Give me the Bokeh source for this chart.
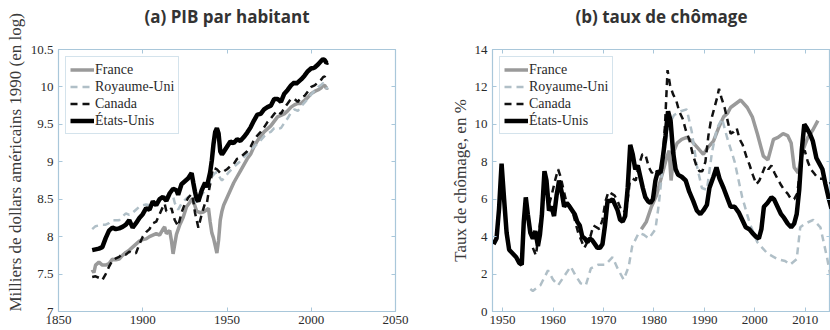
from bokeh.plotting import figure
from bokeh.models import Range1d, FixedTicker, LinearAxis, Legend, LegendItem, Title
from bokeh.layouts import row
from bokeh.embed import file_html
from bokeh.resources import INLINE

# ---------------- data: (a) PIB par habitant (log) ----------------
gdp_fr_years = [1870, 1871, 1872, 1874, 1876, 1878, 1880, 1882, 1884, 1886, 1888, 1890,
                1892, 1894, 1896, 1898, 1900, 1902, 1904, 1906, 1908, 1910, 1912, 1913,
                1914, 1916, 1917, 1918, 1919, 1920, 1922, 1924, 1926, 1928, 1929, 1930,
                1932, 1934, 1936, 1938, 1939, 1940, 1941, 1942, 1943, 1944, 1945, 1946,
                1947, 1948, 1950, 1952, 1954, 1956, 1958, 1960, 1962, 1964, 1966, 1968,
                1970, 1972, 1974, 1976, 1978, 1980, 1982, 1984, 1986, 1988, 1990, 1992,
                1994, 1996, 1998, 2000, 2002, 2004, 2006, 2007, 2008, 2009, 2010]
gdp_fr = [7.56, 7.52, 7.62, 7.66, 7.62, 7.62, 7.64, 7.70, 7.69, 7.70, 7.75, 7.79,
          7.82, 7.86, 7.90, 7.94, 7.96, 7.97, 8.00, 8.02, 8.04, 8.02, 8.10, 8.13,
          8.04, 8.08, 7.95, 7.77, 7.90, 8.03, 8.16, 8.26, 8.40, 8.46, 8.50, 8.48,
          8.34, 8.32, 8.33, 8.36, 8.38, 8.20, 8.05, 7.98, 7.88, 7.78, 7.95, 8.22,
          8.34, 8.42, 8.52, 8.62, 8.72, 8.80, 8.88, 8.96, 9.04, 9.10, 9.20, 9.28,
          9.34, 9.40, 9.44, 9.48, 9.54, 9.60, 9.62, 9.64, 9.68, 9.73, 9.76, 9.78,
          9.78, 9.82, 9.86, 9.91, 9.94, 9.96, 9.99, 10.02, 10.02, 9.98, 9.99]

gdp_uk_years = [1870, 1872, 1874, 1876, 1878, 1880, 1882, 1884, 1886, 1888, 1890, 1892,
                1894, 1896, 1898, 1900, 1902, 1904, 1906, 1908, 1910, 1912, 1913, 1915,
                1917, 1918, 1919, 1921, 1923, 1925, 1927, 1929, 1931, 1933, 1935, 1937,
                1939, 1941, 1943, 1944, 1945, 1946, 1947, 1949, 1951, 1954, 1957, 1960,
                1963, 1966, 1969, 1972, 1974, 1976, 1978, 1980, 1982, 1984, 1986, 1988,
                1990, 1992, 1994, 1996, 1998, 2000, 2002, 2004, 2006, 2007, 2008, 2009,
                2010]
gdp_uk = [8.10, 8.14, 8.15, 8.16, 8.16, 8.18, 8.22, 8.22, 8.22, 8.27, 8.31, 8.29,
          8.32, 8.36, 8.40, 8.42, 8.43, 8.42, 8.46, 8.44, 8.47, 8.49, 8.52, 8.55,
          8.54, 8.54, 8.45, 8.36, 8.44, 8.49, 8.53, 8.55, 8.46, 8.48, 8.56, 8.62,
          8.68, 8.80, 8.85, 8.86, 8.82, 8.78, 8.75, 8.80, 8.86, 8.93, 8.99, 9.06,
          9.12, 9.20, 9.26, 9.34, 9.38, 9.40, 9.45, 9.44, 9.45, 9.52, 9.58, 9.66,
          9.70, 9.68, 9.74, 9.79, 9.84, 9.90, 9.95, 10.00, 10.03, 10.05, 10.04, 9.98,
          9.99]

gdp_ca_years = [1870, 1872, 1874, 1876, 1878, 1880, 1882, 1884, 1886, 1888, 1890, 1892,
                1894, 1896, 1898, 1900, 1902, 1904, 1906, 1908, 1910, 1912, 1913, 1914,
                1916, 1917, 1919, 1921, 1923, 1925, 1927, 1929, 1930, 1931, 1933, 1935,
                1937, 1938, 1939, 1940, 1941, 1942, 1944, 1946, 1948, 1950, 1952, 1954,
                1956, 1958, 1960, 1962, 1964, 1966, 1968, 1970, 1972, 1974, 1976, 1978,
                1980, 1982, 1984, 1986, 1988, 1990, 1992, 1994, 1996, 1998, 2000, 2002,
                2004, 2006, 2007, 2008, 2009, 2010]
gdp_ca = [7.46, 7.47, 7.45, 7.42, 7.50, 7.60, 7.68, 7.71, 7.73, 7.77, 7.76, 7.80,
          7.77, 7.78, 7.90, 8.00, 8.06, 8.10, 8.18, 8.20, 8.30, 8.40, 8.44, 8.34,
          8.34, 8.38, 8.22, 8.14, 8.32, 8.44, 8.52, 8.57, 8.48, 8.32, 8.12, 8.30,
          8.45, 8.44, 8.58, 8.70, 8.84, 8.92, 8.90, 8.85, 8.87, 8.90, 8.94, 8.97,
          9.04, 9.06, 9.10, 9.14, 9.20, 9.29, 9.35, 9.40, 9.46, 9.53, 9.58, 9.64,
          9.68, 9.64, 9.72, 9.78, 9.84, 9.84, 9.80, 9.86, 9.88, 9.94, 10.00, 10.02,
          10.06, 10.10, 10.13, 10.14, 10.09, 10.10]

gdp_us_years = [1870, 1872, 1874, 1876, 1878, 1880, 1882, 1884, 1886, 1888, 1890, 1892,
                1894, 1896, 1898, 1900, 1902, 1904, 1906, 1908, 1910, 1912, 1914, 1916,
                1918, 1920, 1921, 1923, 1925, 1927, 1929, 1930, 1931, 1932, 1933, 1935,
                1937, 1938, 1939, 1940, 1941, 1942, 1943, 1944, 1945, 1946, 1947, 1948,
                1950, 1952, 1954, 1956, 1958, 1960, 1962, 1964, 1966, 1968, 1970, 1972,
                1974, 1976, 1978, 1980, 1982, 1984, 1986, 1988, 1990, 1991, 1992, 1994,
                1996, 1998, 2000, 2001, 2002, 2004, 2006, 2007, 2008, 2009, 2010]
gdp_us = [7.82, 7.83, 7.84, 7.86, 7.98, 8.08, 8.12, 8.10, 8.11, 8.13, 8.16, 8.22,
          8.12, 8.18, 8.25, 8.30, 8.38, 8.36, 8.47, 8.42, 8.50, 8.53, 8.48, 8.58,
          8.64, 8.62, 8.56, 8.70, 8.74, 8.78, 8.85, 8.72, 8.60, 8.50, 8.47, 8.62,
          8.72, 8.66, 8.76, 8.86, 9.02, 9.24, 9.40, 9.45, 9.38, 9.14, 9.10, 9.13,
          9.20, 9.27, 9.25, 9.30, 9.28, 9.33, 9.39, 9.46, 9.55, 9.63, 9.64, 9.70,
          9.73, 9.75, 9.84, 9.84, 9.80, 9.91, 9.96, 10.02, 10.06, 10.04, 10.06, 10.10,
          10.15, 10.21, 10.25, 10.25, 10.26, 10.30, 10.35, 10.37, 10.36, 10.32, 10.33]

# ---------------- data: (b) taux de chômage (%) ----------------
un_fr_years = [1977.5, 1978.5, 1979.5, 1980.5, 1981.5, 1982.3, 1983.0, 1983.4, 1984.0, 1984.6,
               1985.5, 1986.5, 1987.5, 1988.5, 1989.8, 1990.8, 1991.8, 1992.8, 1993.8, 1994.6,
               1995.2, 1996.2, 1997.2, 1998.5, 1999.5, 2000.5, 2001.7, 2002.6, 2003.7, 2004.6,
               2005.6, 2006.5, 2007.2, 2007.8, 2008.6, 2009.5, 2010.5, 2011.5, 2012.5]
un_fr = [4.4, 4.8, 5.6, 6.2, 7.2, 8.0, 8.6, 7.0, 8.6, 9.0,
         9.2, 9.3, 9.1, 8.8, 8.4, 8.8, 9.1, 9.8, 10.4, 10.6,
         10.9, 11.1, 11.3, 10.9, 10.4, 9.5, 8.3, 8.1, 9.2, 9.3,
         9.5, 9.4, 9.0, 7.7, 7.4, 8.6, 9.3, 9.7, 10.2]

un_uk_years = [1955.5, 1956.0, 1957.5, 1959.0, 1960.0, 1961.0, 1962.5, 1963.5, 1964.5, 1965.5,
               1966.5, 1967.5, 1969.0, 1970.4, 1971.8, 1972.8, 1974.0, 1975.0, 1975.7, 1977.0,
               1978.0, 1979.0, 1980.3, 1981.0, 1982.0, 1983.0, 1984.0, 1985.3, 1986.5, 1987.5,
               1988.5, 1989.5, 1990.5, 1991.5, 1992.5, 1993.5, 1994.5, 1996.0, 1997.5, 1999.0,
               2000.5, 2002.5, 2004.5, 2006.0, 2007.0, 2008.3, 2009.0, 2010.0, 2011.6, 2013.0,
               2014.3, 2015.0]
un_uk = [1.2, 1.1, 1.4, 2.2, 1.7, 1.4, 2.0, 2.4, 1.9, 1.5,
         1.4, 2.3, 2.5, 2.5, 2.9, 2.3, 1.7, 2.4, 3.5, 4.2,
         4.1, 3.9, 4.4, 5.8, 8.5, 10.0, 10.5, 10.7, 10.8, 9.6,
         7.8, 6.6, 6.5, 8.5, 9.8, 10.3, 9.3, 8.0, 6.1, 4.7,
         3.7, 3.1, 2.8, 2.7, 2.5, 2.8, 4.5, 4.7, 4.9, 4.5,
         2.9, 1.9]

un_ca_years = [1956.0, 1956.6, 1957.2, 1957.8, 1958.3, 1958.8, 1959.3, 1959.8, 1960.4, 1961.0,
               1961.5, 1962.0, 1962.6, 1963.2, 1963.8, 1964.4, 1965.0, 1965.6, 1966.2, 1966.8,
               1967.4, 1968.0, 1968.6, 1969.2, 1969.8, 1970.4, 1971.0, 1971.6, 1972.2, 1972.8,
               1973.4, 1974.0, 1974.6, 1975.2, 1975.8, 1976.4, 1977.0, 1977.7, 1978.3, 1979.0,
               1979.6, 1980.3, 1981.0, 1981.6, 1982.2, 1982.7, 1983.2, 1983.8, 1984.4, 1985.0,
               1985.7, 1986.3, 1987.0, 1987.7, 1988.4, 1989.0, 1989.6, 1990.2, 1990.8, 1991.3,
               1991.9, 1992.5, 1992.9, 1993.4, 1994.0, 1994.6, 1995.2, 1995.8, 1996.4, 1997.0,
               1997.6, 1998.3, 1999.0, 1999.6, 2000.3, 2000.9, 2001.5, 2002.1, 2002.7, 2003.3,
               2003.9, 2004.5, 2005.1, 2005.8, 2006.5, 2007.2, 2007.8, 2008.4, 2008.9, 2009.4,
               2009.9, 2010.5, 2011.1, 2011.7, 2012.3, 2012.9, 2013.5, 2014.1, 2014.7, 2015.2]
un_ca = [3.4, 3.0, 4.2, 5.5, 7.4, 6.6, 5.8, 6.3, 7.0, 7.6,
         7.2, 6.6, 5.9, 5.7, 5.4, 4.8, 4.2, 3.8, 3.4, 3.7,
         4.0, 4.6, 4.5, 4.4, 4.9, 5.9, 6.4, 6.3, 6.2, 5.9,
         5.5, 5.3, 5.5, 6.9, 7.1, 7.0, 7.8, 8.4, 8.4, 7.7,
         7.4, 7.6, 7.3, 7.6, 10.0, 12.9, 12.1, 11.6, 11.3, 10.7,
         10.3, 9.7, 9.2, 8.4, 7.8, 7.5, 7.5, 8.0, 9.4, 10.2,
         10.8, 11.4, 11.9, 11.4, 10.9, 10.2, 9.5, 9.6, 9.8, 9.2,
         8.9, 8.3, 7.8, 7.3, 6.8, 7.0, 7.4, 7.8, 7.6, 7.8,
         7.4, 7.1, 6.8, 6.5, 6.3, 6.0, 6.0, 6.3, 7.4, 8.5,
         8.6, 8.0, 7.6, 7.4, 7.2, 7.1, 7.1, 6.9, 6.8, 6.9]

un_us_years = [1948.2, 1948.8, 1949.3, 1949.8, 1950.3, 1950.8, 1951.3, 1952.0, 1952.7, 1953.3,
               1953.8, 1954.2, 1954.6, 1955.0, 1955.5, 1956.0, 1956.5, 1957.0, 1957.4, 1957.8,
               1958.3, 1958.7, 1959.2, 1959.7, 1960.2, 1960.7, 1961.2, 1961.7, 1962.2, 1962.7,
               1963.3, 1963.8, 1964.3, 1964.8, 1965.3, 1965.8, 1966.3, 1966.8, 1967.3, 1967.8,
               1968.3, 1968.8, 1969.3, 1969.8, 1970.3, 1970.8, 1971.3, 1971.8, 1972.3, 1972.8,
               1973.3, 1973.8, 1974.3, 1974.8, 1975.3, 1975.8, 1976.3, 1976.8, 1977.3, 1977.8,
               1978.3, 1978.8, 1979.3, 1979.8, 1980.3, 1980.8, 1981.3, 1981.8, 1982.3, 1982.8,
               1983.3, 1983.8, 1984.3, 1984.8, 1985.5, 1986.3, 1987.0, 1987.8, 1988.5, 1989.2,
               1989.8, 1990.5, 1991.0, 1991.8, 1992.4, 1993.0, 1993.8, 1994.5, 1995.2, 1996.0,
               1996.8, 1997.5, 1998.2, 1998.9, 1999.5, 2000.2, 2000.8, 2001.3, 2001.8, 2002.5,
               2003.3, 2003.8, 2004.5, 2005.2, 2005.8, 2006.5, 2007.2, 2007.8, 2008.3, 2008.8,
               2009.3, 2009.8, 2010.3, 2010.9, 2011.5, 2012.2, 2012.8, 2013.4, 2014.0, 2014.6,
               2015.2]
un_us = [3.6, 3.9, 5.5, 7.9, 6.0, 4.2, 3.3, 3.1, 2.9, 2.6,
         2.5, 4.8, 6.1, 5.2, 4.2, 3.9, 4.3, 3.5, 4.1, 5.2,
         7.5, 7.0, 5.4, 5.6, 5.1, 6.2, 7.0, 6.4, 5.6, 5.8,
         5.6, 5.4, 5.2, 4.8, 4.6, 4.0, 3.9, 3.7, 3.9, 3.8,
         3.6, 3.4, 3.4, 3.6, 4.6, 5.9, 5.9, 6.0, 5.7, 5.4,
         4.9, 4.8, 5.1, 6.6, 8.9, 8.4, 7.6, 7.8, 7.2, 6.6,
         6.1, 5.9, 5.8, 6.0, 7.0, 7.5, 7.4, 8.3, 9.4, 10.7,
         10.2, 8.5, 7.6, 7.3, 7.2, 7.0, 6.4, 5.9, 5.4, 5.2,
         5.4, 5.7, 6.6, 7.2, 7.7, 7.1, 6.6, 6.1, 5.6, 5.6,
         5.3, 4.9, 4.5, 4.4, 4.2, 4.0, 3.9, 4.4, 5.6, 5.8,
         6.1, 6.0, 5.6, 5.2, 5.0, 4.7, 4.5, 4.7, 5.2, 6.5,
         8.6, 10.0, 9.8, 9.5, 9.1, 8.2, 7.9, 7.6, 6.8, 6.1,
         5.5]

series_names = ["France", "Royaume-Uni", "Canada", "États-Unis"]

gdp_xticks = [1850, 1900, 1950, 2000, 2050]
gdp_yticks = [7, 7.5, 8, 8.5, 9, 9.5, 10, 10.5]
gdp_ylabels = ["7", "7.5", "8", "8.5", "9", "9.5", "10", "10.5"]
un_xticks = [1950, 1960, 1970, 1980, 1990, 2000, 2010]
un_yticks = [0, 2, 4, 6, 8, 10, 12, 14]

# ---------------- styling ----------------
FRAME = "#a9c7da"
TXT = "#2a2a2a"
SERIF = "Liberation Serif"
SANS = "Open Sans"
H = 330

line_styles = [
    dict(color="#9a9a9a", line_width=3.5, line_dash="solid"),
    dict(color="#b0bfc7", line_width=2.5, line_dash="7 5"),
    dict(color="#111111", line_width=2.5, line_dash="7 5"),
    dict(color="#000000", line_width=4.5, line_dash="solid"),
]


def make_fig(width, min_left, min_right, title, xr, yr, xticks, yticks, ylab_over):
    p = figure(width=width, height=H, output_backend="svg", toolbar_location=None,
               title=None,
               x_range=Range1d(*xr), y_range=Range1d(*yr),
               min_border_left=min_left, min_border_right=min_right,
               min_border_top=49, min_border_bottom=19)
    p.outline_line_color = FRAME
    p.outline_line_width = 1.2
    p.xgrid.visible = False
    p.ygrid.visible = False
    p.background_fill_color = "white"
    p.border_fill_color = "white"

    for ax, ticks in ((p.xaxis[0], xticks), (p.yaxis[0], yticks)):
        ax.ticker = FixedTicker(ticks=ticks)
        ax.axis_line_color = FRAME
        ax.major_tick_line_color = FRAME
        ax.major_tick_in = 4
        ax.major_tick_out = 0
        ax.minor_tick_line_color = None
        ax.major_label_text_font = SERIF
        ax.major_label_text_font_size = "13px"
        ax.major_label_text_color = TXT
    p.xaxis[0].major_label_standoff = 4
    p.yaxis[0].major_label_standoff = 5
    if ylab_over:
        p.yaxis[0].major_label_overrides = ylab_over

    # mirrored tick marks (top and right), without labels
    for side, ticks in (("above", xticks), ("right", yticks)):
        ax = LinearAxis(ticker=FixedTicker(ticks=ticks))
        ax.axis_line_color = None
        ax.major_tick_line_color = FRAME
        ax.major_tick_in = 4
        ax.major_tick_out = 0
        ax.minor_tick_line_color = None
        ax.major_label_text_color = None
        ax.major_label_text_font_size = "1px"
        ax.major_label_standoff = 0
        p.add_layout(ax, side)

    # invisible spacer between the frame and the panel title
    spacer = LinearAxis(ticker=FixedTicker(ticks=xticks))
    spacer.axis_line_color = None
    spacer.major_tick_line_color = None
    spacer.major_tick_in = 0
    spacer.major_tick_out = 22
    spacer.minor_tick_line_color = None
    spacer.major_label_text_color = None
    spacer.major_label_text_font_size = "1px"
    spacer.major_label_standoff = 0
    p.add_layout(spacer, "above")

    t = Title(text=title, align="center", standoff=0, text_font=SANS,
              text_font_style="bold", text_font_size="17px", text_color="#333333")
    p.add_layout(t, "above")
    return p


def add_ylabel(p, text, align, offset, standoff):
    t = Title(text=text, align=align, offset=offset, standoff=standoff,
              text_font=SERIF, text_font_style="normal", text_font_size="17px",
              text_color="#3a3a3a")
    p.add_layout(t, "left")


def add_series(p, data):
    items = []
    for name, (xs, ys), st in zip(series_names, data, line_styles):
        r = p.line(xs, ys, **st)
        items.append(LegendItem(label=name, renderers=[r]))
    leg = Legend(items=items, location="top_left")
    leg.margin = 7
    leg.padding = 4
    leg.spacing = 0
    leg.label_text_font = SERIF
    leg.label_text_font_size = "14px"
    leg.label_text_color = TXT
    leg.label_standoff = 1
    leg.label_height = 17
    leg.glyph_height = 17
    leg.glyph_width = 24
    leg.border_line_color = FRAME
    leg.border_line_width = 1.5
    leg.background_fill_color = "white"
    leg.background_fill_alpha = 1
    p.add_layout(leg)


gdp_over = {t: s for t, s in zip(gdp_yticks, gdp_ylabels)}
p1 = make_fig(410, 57, 15, "(a) PIB par habitant", (1850, 2050), (7, 10.5),
              gdp_xticks, gdp_yticks, gdp_over)
add_ylabel(p1, "Milliers de dollars américains 1990 (en log)", "left", 0, 6)
add_series(p1, [(gdp_fr_years, gdp_fr), (gdp_uk_years, gdp_uk),
                (gdp_ca_years, gdp_ca), (gdp_us_years, gdp_us)])

p2 = make_fig(420, 82, 0, "(b) taux de chômage", (1948, 2015), (0, 14),
              un_xticks, un_yticks, None)
add_ylabel(p2, "Taux de chômage, en %", "center", 0, 4)
add_series(p2, [(un_fr_years, un_fr), (un_uk_years, un_uk),
                (un_ca_years, un_ca), (un_us_years, un_us)])

layout = row(p1, p2)
open("out.html", "w").write(file_html(layout, INLINE))
